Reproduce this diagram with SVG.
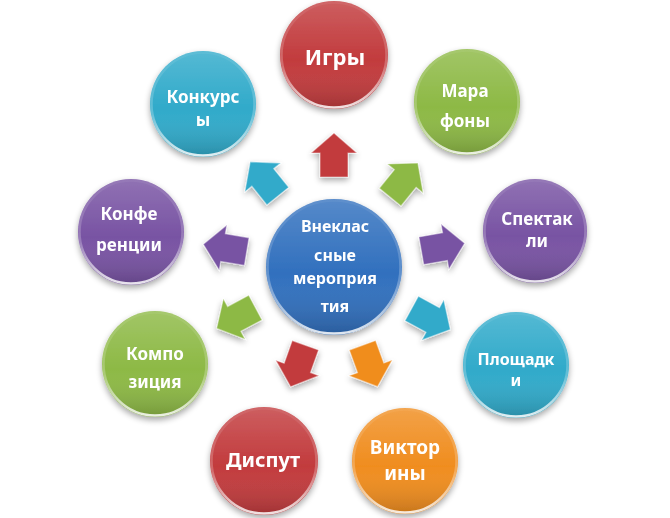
<svg xmlns="http://www.w3.org/2000/svg" width="670" height="518" viewBox="0 0 670 518">
<defs>
  <linearGradient id="shade" x1="0" y1="0" x2="0" y2="1">
    <stop offset="0" stop-color="#fff" stop-opacity="0.18"/>
    <stop offset="0.55" stop-color="#fff" stop-opacity="0"/>
    <stop offset="1" stop-color="#000" stop-opacity="0.18"/>
  </linearGradient>
  <linearGradient id="rim" x1="0" y1="0" x2="0" y2="1">
    <stop offset="0" stop-color="#fff" stop-opacity="0.05"/>
    <stop offset="0.6" stop-color="#fff" stop-opacity="0.25"/>
    <stop offset="1" stop-color="#fff" stop-opacity="0.85"/>
  </linearGradient>
  <filter id="sh" x="-30%" y="-30%" width="160%" height="170%">
    <feGaussianBlur in="SourceAlpha" stdDeviation="3"/>
    <feOffset dx="0" dy="3" result="b"/>
    <feComponentTransfer><feFuncA type="linear" slope="0.35"/></feComponentTransfer>
    <feMerge><feMergeNode/><feMergeNode in="SourceGraphic"/></feMerge>
  </filter>
  <path id="arr" d="M-22,-14 L2,-14 L2,-23 L22,0 L2,23 L2,14 L-22,14 Z"/>
</defs>
<style>
  .red{fill:#C23B3D}
  .green{fill:#8DB945}
  .purple{fill:#7853A3}
  .teal{fill:#30AACA}
  .orange{fill:#F08D1F}
  .blue{fill:#3170BE}
  .ov{fill:url(#shade)}
  .rim{fill:none;stroke:url(#rim);stroke-width:2.5}
  .arrow use{stroke:#fff;stroke-opacity:0.45;stroke-width:1.2;stroke-linejoin:miter}
  text{font-family:"Noto Sans","Liberation Sans",sans-serif;font-weight:bold;fill:#fff;text-anchor:middle}
  .f16{font-size:16px}
  .f17{font-size:17px}
  .f19{font-size:19px}
  .f20{font-size:20px}
  .f22{font-size:22px}
</style>

<g id="connectors">
  <g class="arrow" filter="url(#sh)">
    <use href="#arr" class="red" transform="translate(334,155) rotate(-90)"/>
    <use href="#arr" class="green" transform="translate(404,180) rotate(-51)"/>
    <use href="#arr" class="purple" transform="translate(443,247) rotate(-9.9)"/>
    <use href="#arr" class="teal" transform="translate(431,319) rotate(28.6)"/>
    <use href="#arr" class="orange" transform="translate(370,366) rotate(70)"/>
    <use href="#arr" class="red" transform="translate(298,366) rotate(109.7)"/>
    <use href="#arr" class="green" transform="translate(236,318) rotate(151.8)"/>
    <use href="#arr" class="purple" transform="translate(225,248) rotate(189.5)"/>
    <use href="#arr" class="teal" transform="translate(264,179) rotate(231.2)"/>
  </g>
</g>

<g id="node-center" filter="url(#sh)">
  <circle class="blue" cx="334" cy="267" r="68"/>
  <circle class="ov" cx="334" cy="267" r="68"/>
  <circle class="rim" cx="334" cy="267" r="66.5"/>
  <text class="f16" x="335" y="232">Внеклас</text>
  <text class="f16" x="335" y="261">сные</text>
  <text class="f16" x="335" y="284">мероприя</text>
  <text class="f16" x="335" y="312">тия</text>
</g>

<g id="node-igry" filter="url(#sh)">
  <circle class="red" cx="334" cy="55" r="54"/>
  <circle class="ov" cx="334" cy="55" r="54"/>
  <circle class="rim" cx="334" cy="55" r="52.5"/>
  <text class="f22" x="335" y="65">Игры</text>
</g>

<g id="node-marafony" filter="url(#sh)">
  <circle class="green" cx="467" cy="102" r="53"/>
  <circle class="ov" cx="467" cy="102" r="53"/>
  <circle class="rim" cx="467" cy="102" r="51.5"/>
  <text class="f17" x="465" y="97">Мара</text>
  <text class="f17" x="465" y="127">фоны</text>
</g>

<g id="node-spektakli" filter="url(#sh)">
  <circle class="purple" cx="535" cy="231" r="52"/>
  <circle class="ov" cx="535" cy="231" r="52"/>
  <circle class="rim" cx="535" cy="231" r="50.5"/>
  <text class="f17" x="537" y="225">Спектак</text>
  <text class="f17" x="537" y="247">ли</text>
</g>

<g id="node-ploshchadki" filter="url(#sh)">
  <circle class="teal" cx="516" cy="365" r="53"/>
  <circle class="ov" cx="516" cy="365" r="53"/>
  <circle class="rim" cx="516" cy="365" r="51.5"/>
  <text class="f16" x="516" y="365">Площадк</text>
  <text class="f16" x="516" y="386">и</text>
</g>

<g id="node-viktoriny" filter="url(#sh)">
  <circle class="orange" cx="405" cy="461" r="53"/>
  <circle class="ov" cx="405" cy="461" r="53"/>
  <circle class="rim" cx="405" cy="461" r="51.5"/>
  <text class="f19" x="405" y="454">Виктор</text>
  <text class="f19" x="405" y="480">ины</text>
</g>

<g id="node-disput" filter="url(#sh)">
  <circle class="red" cx="264" cy="461" r="54"/>
  <circle class="ov" cx="264" cy="461" r="54"/>
  <circle class="rim" cx="264" cy="461" r="52.5"/>
  <text class="f20" x="263" y="467">Диспут</text>
</g>

<g id="node-kompozitsiya" filter="url(#sh)">
  <circle class="green" cx="155" cy="364" r="53"/>
  <circle class="ov" cx="155" cy="364" r="53"/>
  <circle class="rim" cx="155" cy="364" r="51.5"/>
  <text class="f17" x="155" y="360">Компо</text>
  <text class="f17" x="155" y="388">зиция</text>
</g>

<g id="node-konferentsii" filter="url(#sh)">
  <circle class="purple" cx="131" cy="232" r="53"/>
  <circle class="ov" cx="131" cy="232" r="53"/>
  <circle class="rim" cx="131" cy="232" r="51.5"/>
  <text class="f17" x="129" y="220">Конфе</text>
  <text class="f17" x="129" y="251">ренции</text>
</g>

<g id="node-konkursy" filter="url(#sh)">
  <circle class="teal" cx="203" cy="104" r="53"/>
  <circle class="ov" cx="203" cy="104" r="53"/>
  <circle class="rim" cx="203" cy="104" r="51.5"/>
  <text class="f17" x="203" y="103">Конкурс</text>
  <text class="f17" x="203" y="126">ы</text>
</g>
</svg>
